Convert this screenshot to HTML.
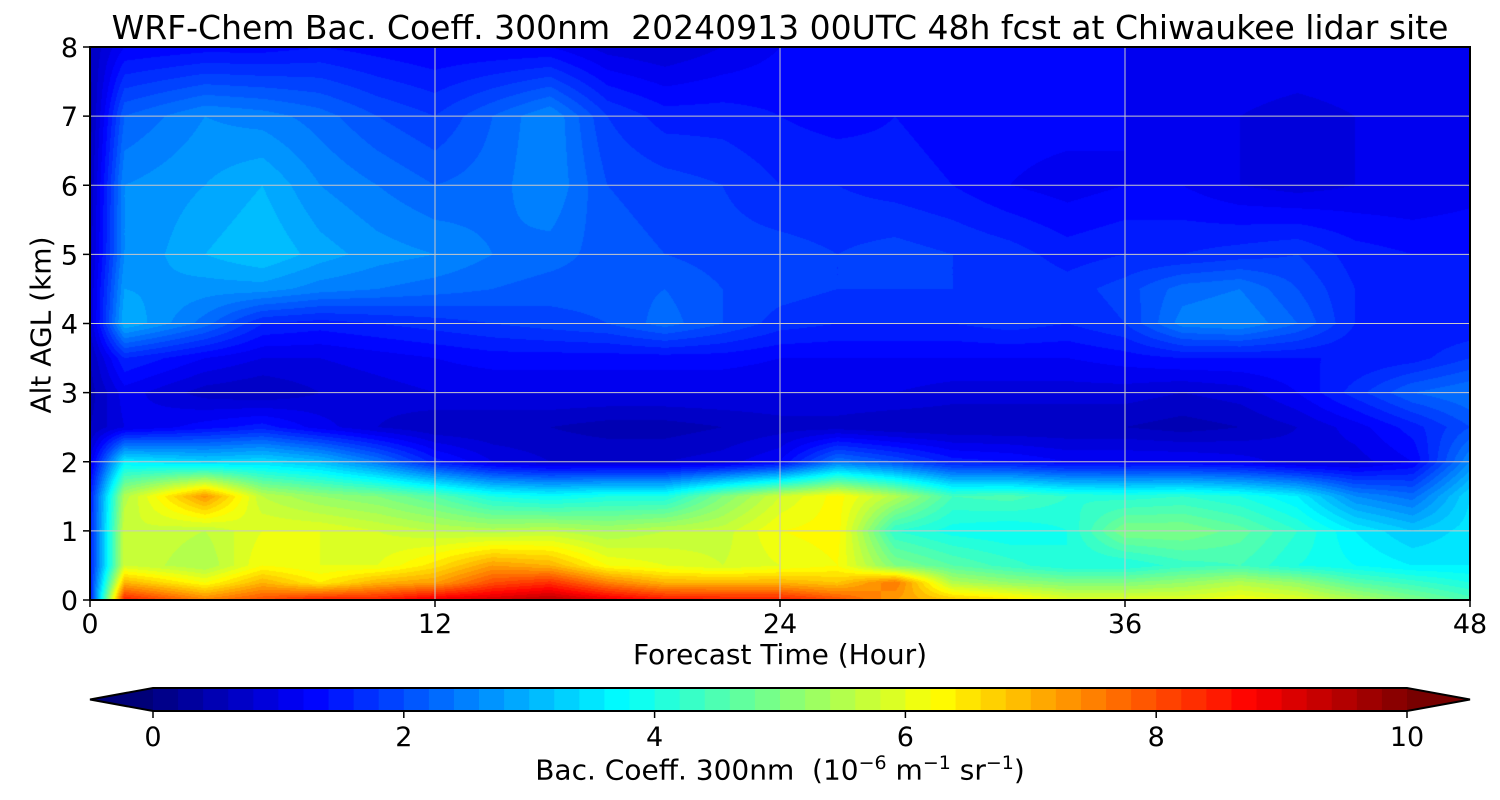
<!DOCTYPE html>
<html><head><meta charset="utf-8">
<style>
body{margin:0;background:#fff;width:1500px;height:800px;overflow:hidden;font-family:"DejaVu Sans","Liberation Sans",sans-serif;}
#wrap{position:relative;width:1500px;height:800px;}
canvas{position:absolute;}
.t{position:absolute;color:#000;white-space:nowrap;}
</style></head>
<body>
<div id="wrap">
<div class="t" style="left:0;width:1560px;top:8px;font-size:33px;text-align:center;">WRF-Chem Bac. Coeff. 300nm&nbsp; 20240913 00UTC 48h fcst at Chiwaukee lidar site</div>
<canvas id="plot" width="1380" height="553" style="left:90px;top:47px;"></canvas>
<svg id="ov" width="1500" height="800" style="position:absolute;left:0;top:0;"></svg>
<div class="t" style="left:0;width:1560px;text-align:center;top:638px;font-size:28px;">Forecast Time (Hour)</div>
<div class="t" style="left:41px;top:325px;font-size:28px;transform:translate(-50%,-50%) rotate(-90deg);">Alt AGL (km)</div>
<div class="t" style="left:0;width:1560px;text-align:center;top:752px;font-size:28px;">Bac. Coeff. 300nm&nbsp; (10<sup style="font-size:19px">−6</sup> m<sup style="font-size:19px">−1</sup> sr<sup style="font-size:19px">−1</sup>)</div>
</div>
<script>
const times=[0,1.2,4,6,8,10,12,14,16,18,20,22,24,26,28,30,32,34,36,38,40,42,44,46,48];
const alts=[0,0.25,0.5,1,1.5,2,2.5,3,3.5,4,4.5,5,6,7,8];
const values=[
[1.5,8.5,7.5,8.0,8.5,8.5,9.0,9.2,9.5,9.0,8.6,8.5,8.5,8.0,7.2,6.8,6.5,6.0,6.0,6.0,6.2,6.0,5.5,5.0,4.5],
[1.5,7.0,6.2,7.0,6.4,7.0,7.2,8.0,8.3,7.5,7.0,7.0,7.0,6.8,7.6,5.5,5.2,5.0,5.0,5.2,5.5,5.2,4.6,4.3,4.0],
[1.5,5.8,5.4,6.2,6.0,6.0,6.5,7.2,7.0,6.2,6.0,5.8,6.0,6.2,5.0,4.6,4.3,4.0,4.0,4.3,4.4,4.0,3.8,3.6,3.6],
[1.5,5.8,5.6,6.0,6.0,5.8,5.6,5.5,5.6,5.4,5.6,5.7,6.2,6.3,4.2,3.9,3.8,4.0,5.0,5.0,4.7,4.2,3.6,3.2,3.5],
[1.5,5.5,7.3,5.6,5.2,5.0,4.6,4.0,3.8,4.0,4.0,5.0,5.8,6.3,5.5,4.4,4.5,4.2,4.1,4.2,4.0,3.6,2.6,2.3,3.4],
[1.0,3.6,3.3,3.4,3.1,2.4,1.5,1.0,0.8,0.8,0.8,0.9,1.2,2.4,2.0,1.5,1.4,1.2,1.2,1.2,1.1,0.9,0.9,1.2,2.6],
[0.6,1.0,1.3,1.5,1.1,0.8,0.6,0.6,0.6,0.5,0.5,0.6,0.7,0.7,0.6,0.6,0.6,0.6,0.6,0.5,0.6,0.8,1.1,1.5,2.0],
[0.5,1.1,0.7,0.6,0.8,0.9,1.0,1.0,1.0,1.0,1.0,1.0,1.0,1.0,1.0,0.9,0.9,0.9,0.9,0.8,0.9,1.2,1.7,2.2,2.4],
[0.6,1.6,1.2,1.0,1.0,1.1,1.2,1.3,1.3,1.3,1.3,1.3,1.2,1.2,1.2,1.2,1.2,1.2,1.3,1.4,1.4,1.4,1.4,1.5,1.8],
[0.8,3.0,2.3,1.6,1.5,1.6,1.7,1.8,1.9,2.0,2.3,2.0,1.7,1.6,1.6,1.6,1.7,1.6,1.8,2.5,2.6,2.2,1.6,1.4,1.4],
[0.8,2.8,2.7,2.7,2.5,2.4,2.3,2.2,2.1,2.1,2.2,2.0,1.9,1.8,1.8,1.8,1.8,1.7,1.9,2.3,2.4,2.0,1.6,1.5,1.4],
[0.7,2.6,3.0,3.2,2.9,2.7,2.6,2.4,2.3,2.1,2.0,1.9,1.9,1.8,1.9,1.8,1.7,1.5,1.6,1.6,1.7,1.8,1.5,1.4,1.4],
[0.6,2.6,2.8,3.0,2.6,2.4,2.2,2.3,2.6,2.0,1.9,1.8,1.6,1.6,1.5,1.4,1.2,1.1,1.2,1.2,1.0,0.9,1.0,1.0,1.1],
[0.5,2.2,2.6,2.5,2.3,2.0,1.8,2.2,2.6,1.8,1.5,1.5,1.4,1.3,1.4,1.3,1.3,1.3,1.2,1.1,1.0,0.9,1.0,1.1,1.1],
[0.6,1.2,1.3,1.3,1.4,1.3,1.2,1.2,1.2,0.9,0.8,1.0,1.2,1.2,1.2,1.2,1.2,1.2,1.2,1.2,1.2,1.2,1.2,1.2,1.2]];
const xTicks=[0,12,24,36,48];
const yTicks=[0,1,2,3,4,5,6,7,8];
const cbTicks=[0,2,4,6,8,10];

const PX0=90,PX1=1470,PY0=600,PY1=47;
const xS=t=>PX0+(t/48)*(PX1-PX0);
const yS=a=>PY0-(a/8)*(PY0-PY1);
function jet(v){v=Math.max(0,Math.min(1,v));
 const f=x=>Math.max(0,Math.min(1,x));
 return [f(1.5-Math.abs(4*v-3)),f(1.5-Math.abs(4*v-2)),f(1.5-Math.abs(4*v-1))].map(c=>Math.round(c*255));}
function lev(v){const s=0.2;let q=Math.floor(v/s)*s+s/2;return jet(q/10);}
function seg(arr,v){for(let i=0;i<arr.length-1;i++){if(v<=arr[i+1])return [i,(v-arr[i])/(arr[i+1]-arr[i])];}return [arr.length-2,1];}

const cv=document.getElementById('plot');const ctx=cv.getContext('2d');
const W=cv.width,H=cv.height;const img=ctx.createImageData(W,H);
for(let py=0;py<H;py++){
 const a=(PY0-(PY1+py+0.5))/(PY0-PY1)*8;const [j,fy]=seg(alts,Math.max(0,a));
 for(let px=0;px<W;px++){
  const t=(px+0.5)/W*48;const [i,fx]=seg(times,t);
  const v=values[j][i]*(1-fx)*(1-fy)+values[j][i+1]*fx*(1-fy)+values[j+1][i]*(1-fx)*fy+values[j+1][i+1]*fx*fy;
  const c=lev(v);const k=(py*W+px)*4;img.data[k]=c[0];img.data[k+1]=c[1];img.data[k+2]=c[2];img.data[k+3]=255;}}
ctx.putImageData(img,0,0);

const ov=document.getElementById('ov');const NS='http://www.w3.org/2000/svg';
const FF='DejaVu Sans, Liberation Sans, sans-serif';
function mk(tag,at,par){const e=document.createElementNS(NS,tag);for(const k in at)e.setAttribute(k,at[k]);(par||ov).appendChild(e);return e;}
xTicks.forEach(t=>{
 if(t>0&&t<48){const g=mk('line',{x1:xS(t),x2:xS(t),y1:PY1,y2:PY0,stroke:'#c8c8c8','stroke-width':1});
 
 }
 const tk=mk('line',{x1:xS(t),x2:xS(t),y1:PY0,y2:PY0+7,stroke:'#000','stroke-width':1.5});
 
 
 const tx=mk('text',{x:xS(t),y:PY0+33,'text-anchor':'middle','font-size':27,'font-family':FF});tx.textContent=t;
 
 
});
yTicks.forEach(a=>{
 if(a>0&&a<8){const g=mk('line',{x1:PX0,x2:PX1,y1:yS(a),y2:yS(a),stroke:'#c8c8c8','stroke-width':1});
 
 }
 const tk=mk('line',{x1:PX0-7,x2:PX0,y1:yS(a),y2:yS(a),stroke:'#000','stroke-width':1.5});
 
 
 const tx=mk('text',{x:PX0-12,y:yS(a)+10,'text-anchor':'end','font-size':27,'font-family':FF});tx.textContent=a;
 
 
});
const fr=mk('rect',{x:PX0,y:PY1,width:PX1-PX0,height:PY0-PY1,fill:'none',stroke:'#000','stroke-width':2});



const CB0=153,CB1=1407,CBY=688,CBH=23;
const cS=v=>CB0+v/10*(CB1-CB0);
for(let k=0;k<50;k++){const v0=k*0.2;const c=jet((v0+0.1)/10);
 const r=mk('rect',{x:cS(v0),y:CBY,width:cS(v0+0.2)-cS(v0)+0.6,height:CBH,fill:`rgb(${c})`});
 
 }
const tl=mk('polygon',{points:`${CB0},${CBY} 90,${CBY+CBH/2} ${CB0},${CBY+CBH}`,fill:`rgb(0,0,120)`});


const tr=mk('polygon',{points:`${CB1},${CBY} 1470,${CBY+CBH/2} ${CB1},${CBY+CBH}`,fill:`rgb(120,0,0)`});


const ob=mk('polygon',{points:`90,${CBY+CBH/2} ${CB0},${CBY} ${CB1},${CBY} 1470,${CBY+CBH/2} ${CB1},${CBY+CBH} ${CB0},${CBY+CBH}`,fill:'none',stroke:'#000','stroke-width':2});


cbTicks.forEach(v=>{
 const tk=mk('line',{x1:cS(v),x2:cS(v),y1:CBY+CBH,y2:CBY+CBH+7,stroke:'#000','stroke-width':1.5});
 
 
 const tx=mk('text',{x:cS(v),y:CBY+CBH+35,'text-anchor':'middle','font-size':27,'font-family':FF});tx.textContent=v;
 
 
});
</script>
</body></html>
